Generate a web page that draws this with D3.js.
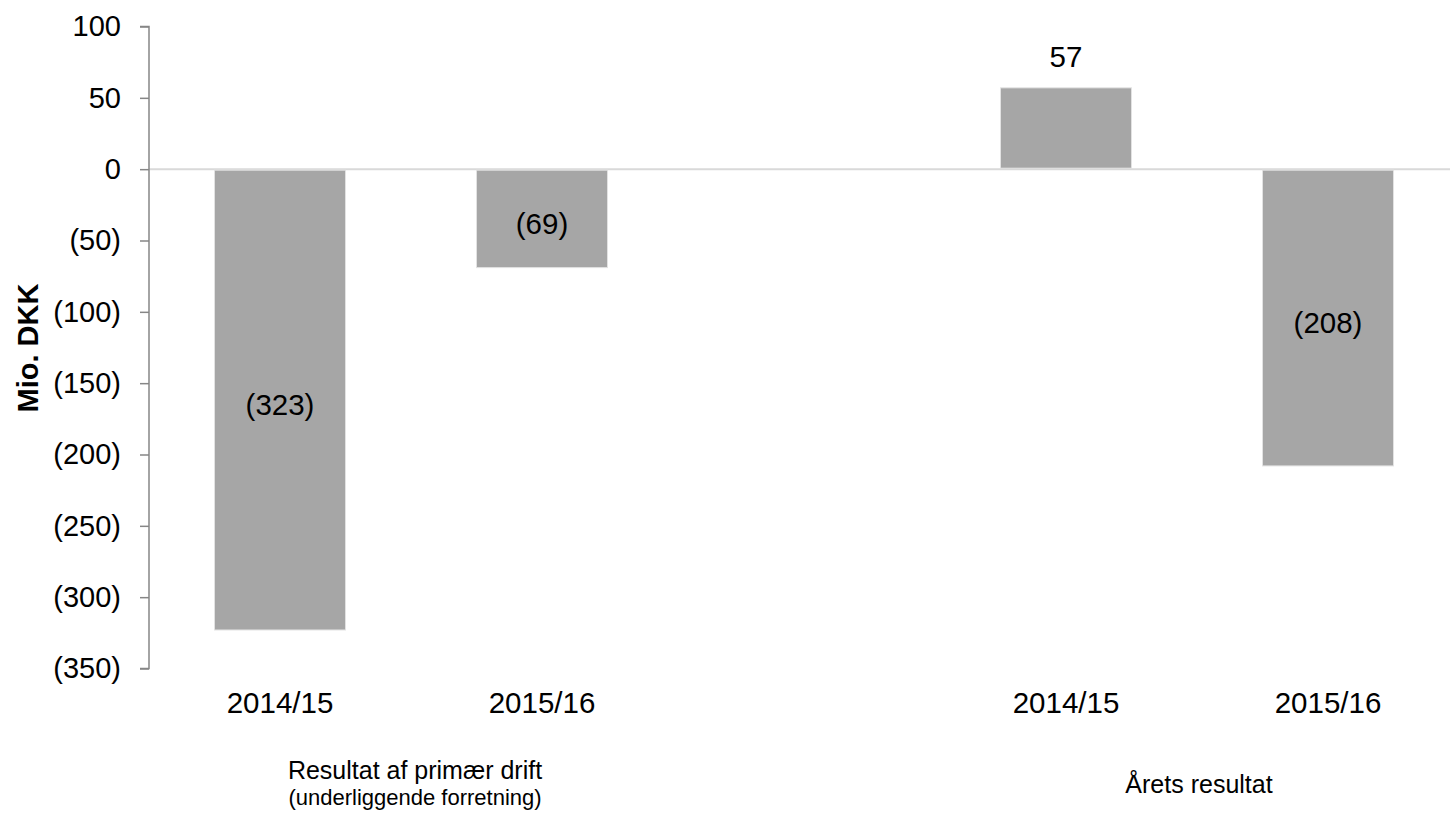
<!DOCTYPE html>
<html>
<head>
<meta charset="utf-8">
<script src="https://cdn.jsdelivr.net/npm/d3@7"></script>
<style>
  html, body { margin: 0; padding: 0; background: #fff; }
  svg { display: block; font-family: "Liberation Sans", Arial, sans-serif; }
</style>
</head>
<body>
<svg id="chart" width="1450" height="815"></svg>
<script>
// ---- data ----
const slots = ["a", "b", "gap", "c", "d"];
const categories = ["2014/15", "2015/16", "", "2014/15", "2015/16"];
const values = [-323, -69, null, 57, -208];
const groupLabels = [
  { lines: ["Resultat af primær drift", "(underliggende forretning)"], slots: ["a", "b"] },
  { lines: ["Årets resultat"], slots: ["c", "d"] }
];
const yTicks = [100, 50, 0, -50, -100, -150, -200, -250, -300, -350];
const yTitle = "Mio. DKK";

// ---- layout ----
const svg = d3.select("#chart");
const x = d3.scaleBand().domain(slots).range([149, 1459]).paddingInner(0.5).paddingOuter(0.25);
const y = d3.scaleLinear().domain([-350, 100]).range([668.5, 26.5]);
const fmt = v => v < 0 ? "(" + Math.abs(v) + ")" : String(v);

// zero line
svg.append("line")
  .attr("x1", 149).attr("x2", 1450)
  .attr("y1", y(0)).attr("y2", y(0))
  .attr("stroke", "#d9d9d9").attr("stroke-width", 2);

// bars
const data = slots.map((s, i) => ({ s, v: values[i], c: categories[i] })).filter(d => d.v !== null);
svg.selectAll("rect.bar").data(data).enter().append("rect")
  .attr("class", "bar")
  .attr("x", d => x(d.s))
  .attr("width", x.bandwidth())
  .attr("y", d => Math.min(y(d.v), y(0) + 1))
  .attr("height", d => Math.abs(y(d.v) - y(0)) - 1)
  .attr("fill", "#a6a6a6")
  .attr("stroke", "#e2e2e2").attr("stroke-width", 1);

// data labels
svg.selectAll("text.val").data(data).enter().append("text")
  .attr("class", "val")
  .attr("x", d => x(d.s) + x.bandwidth() / 2)
  .attr("y", d => d.v >= 0 ? y(d.v) - 20.5 : (y(0) + y(d.v)) / 2 + 15.5)
  .attr("text-anchor", "middle")
  .attr("font-size", 29.5)
  .attr("fill", "#000")
  .text(d => fmt(d.v));

// y axis
const yAxis = d3.axisLeft(y).tickValues(yTicks).tickSize(9).tickPadding(19).tickFormat(fmt);
const gy = svg.append("g").attr("transform", "translate(149,0)").call(yAxis);
gy.select(".domain").attr("stroke", "#868686").attr("stroke-width", 1.5).attr("d", "M-9," + y(100) + "H0V" + y(-350) + "H-9");
gy.selectAll(".tick line").attr("stroke", "#868686").attr("stroke-width", 1.5);
gy.selectAll(".tick text").attr("font-size", 29).attr("fill", "#000")
  .attr("font-family", "Liberation Sans, Arial, sans-serif");

// category labels
svg.selectAll("text.cat").data(data).enter().append("text")
  .attr("class", "cat")
  .attr("x", d => x(d.s) + x.bandwidth() / 2)
  .attr("y", 713)
  .attr("text-anchor", "middle")
  .attr("font-size", 29.5)
  .attr("fill", "#000")
  .text(d => d.c);

// group labels
groupLabels.forEach(g => {
  const cx = d3.mean(g.slots, s => x(s) + x.bandwidth() / 2) + 4;
  if (g.lines.length === 2) {
    svg.append("text").attr("x", cx).attr("y", 779).attr("text-anchor", "middle")
      .attr("font-size", 25).text(g.lines[0]);
    svg.append("text").attr("x", cx).attr("y", 805).attr("text-anchor", "middle")
      .attr("font-size", 22).text(g.lines[1]);
  } else {
    svg.append("text").attr("x", cx - 2).attr("y", 793).attr("text-anchor", "middle")
      .attr("font-size", 25).text(g.lines[0]);
  }
});

// y title
svg.append("text")
  .attr("transform", "translate(38,348) rotate(-90)")
  .attr("text-anchor", "middle")
  .attr("font-size", 29)
  .attr("font-weight", "bold")
  .text(yTitle);
</script>
</body>
</html>
